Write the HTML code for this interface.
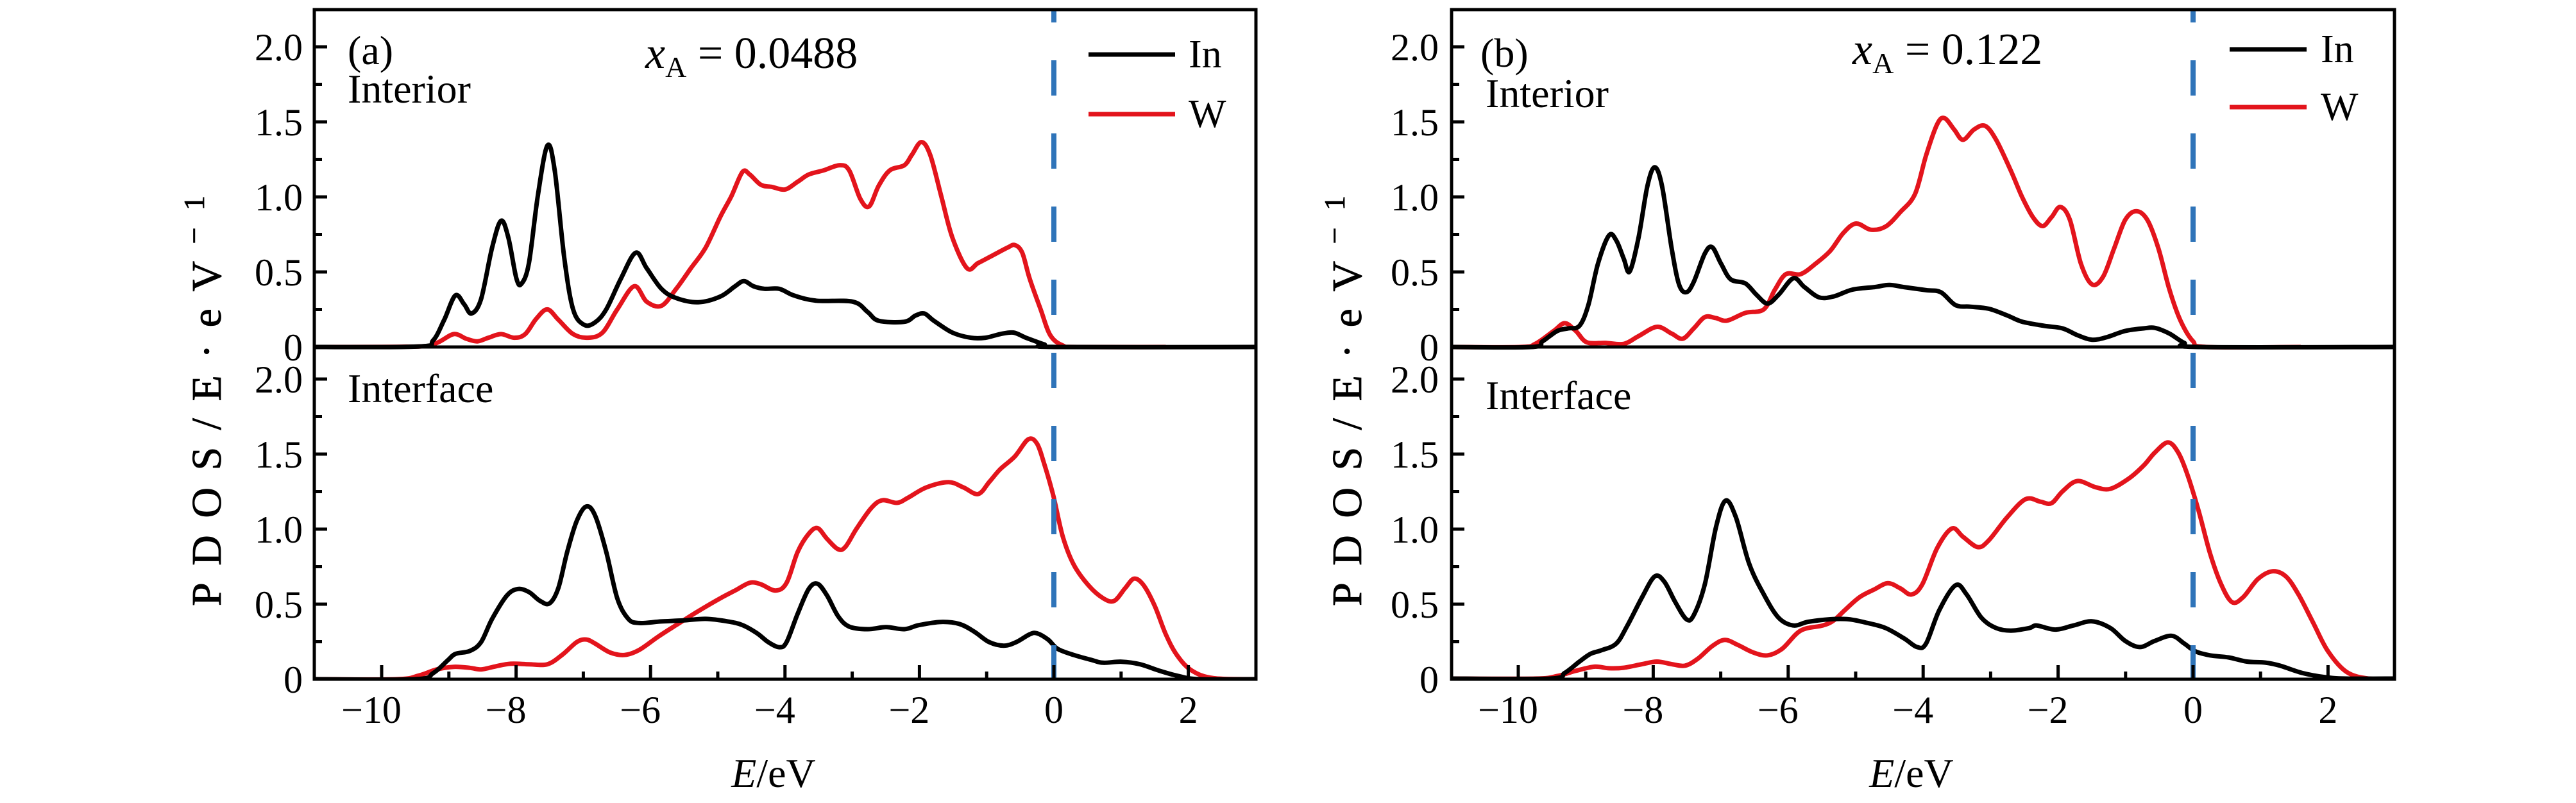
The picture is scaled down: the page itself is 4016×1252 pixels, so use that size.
<!DOCTYPE html>
<html><head><meta charset="utf-8"><style>
html,body{margin:0;padding:0;background:#fff;}
svg{display:block;}
text{font-family:"Liberation Serif",serif;fill:#000;}
</style></head><body>
<svg id="s" width="4016" height="1252" viewBox="0 0 4016 1252" xmlns="http://www.w3.org/2000/svg">
<g id="g"></g>
</svg>
<script>
const NS="http://www.w3.org/2000/svg";
const g=document.getElementById('g');
function el(t,a,txt){const e=document.createElementNS(NS,t);for(const k in a)e.setAttribute(k,a[k]);if(txt!==undefined)e.textContent=txt;g.appendChild(e);return e;}
function smooth(p){let d="M"+p[0][0].toFixed(1)+","+p[0][1].toFixed(1);
 for(let i=0;i<p.length-1;i++){const p0=p[i>0?i-1:i],p1=p[i],p2=p[i+1],p3=p[i+2<p.length?i+2:i+1];
  const c1=[p1[0]+(p2[0]-p0[0])/6,p1[1]+(p2[1]-p0[1])/6],c2=[p2[0]-(p3[0]-p1[0])/6,p2[1]-(p3[1]-p1[1])/6];
  d+=" C"+c1[0].toFixed(1)+","+c1[1].toFixed(1)+" "+c2[0].toFixed(1)+","+c2[1].toFixed(1)+" "+p2[0].toFixed(1)+","+p2[1].toFixed(1);}
 return d;}
function P(s){return s.trim().split(/\)\s*,?\s*\(/).map(t=>t.replace(/[()]/g,'').split(',').map(Number));}

const panels=[
{L:490,R:1958,x0:1643,ux:104.8,ylab:472,ytl:322,
 mx:zx=>595+(zx-300)*1.1479, mt:zy=>541-(673-zy)*0.8027, mb:zy=>1059-(1327-zy)*0.8041,
 lab:"(a)",labx:542,laby:100,intx:542,inty:160,ifx:542,ify:627,
 title:"0.0488",tx:1006,ty:106,legx1:1697,legx2:1832,legIn:85,legW:178,legtx:1853,
 tb:`(208,673),(350,672),(370,660),(385,620),(400,573),(412,590),(422,608),(435,580),(450,480),(462,428),(472,460),(483,540),(490,550),(500,510),(512,380),(525,282),(535,330),(548,500),(560,600),(575,630),(590,625),(605,600),(625,540),(645,490),(660,520),(680,560),(700,578),(730,586),(760,575),(780,555),(792,545),(805,555),(820,560),(840,560),(860,573),(890,583),(940,585),(960,605),(975,622),(1010,624),(1025,612),(1037,608),(1050,622),(1075,645),(1100,655),(1120,655),(1140,648),(1158,645),(1175,655),(1200,668),(1215,673),(1488,673)`,
 tr:`(208,673),(350,672),(375,665),(398,648),(415,657),(430,662),(445,655),(462,648),(480,655),(495,648),(510,618),(525,600),(540,620),(560,648),(580,655),(600,645),(620,600),(643,555),(660,585),(680,593),(700,560),(720,520),(740,480),(760,420),(775,380),(790,333),(800,338),(815,358),(830,362),(848,367),(865,352),(880,338),(900,330),(922,320),(935,330),(950,385),(962,400),(975,360),(990,330),(1010,320),(1020,300),(1033,275),(1045,300),(1060,380),(1075,460),(1095,520),(1110,510),(1130,495),(1150,480),(1160,475),(1170,490),(1180,540),(1195,600),(1208,650),(1225,670),(1245,673),(1365,673)`,
 bb:`(208,1327),(345,1327),(370,1315),(390,1290),(400,1278),(420,1272),(435,1255),(450,1210),(470,1165),(485,1152),(500,1158),(515,1175),(528,1180),(540,1150),(552,1080),(565,1020),(578,992),(590,1010),(605,1080),(620,1170),(635,1210),(650,1218),(680,1215),(710,1213),(740,1210),(770,1215),(790,1222),(810,1238),(825,1255),(840,1265),(850,1255),(865,1200),(880,1152),(892,1142),(905,1165),(920,1205),(935,1225),(960,1230),(985,1226),(1010,1230),(1030,1222),(1060,1216),(1085,1220),(1105,1235),(1125,1255),(1145,1262),(1162,1255),(1180,1240),(1190,1238),(1205,1250),(1218,1268),(1240,1280),(1265,1290),(1280,1295),(1305,1293),(1330,1298),(1355,1310),(1380,1320),(1410,1327),(1488,1327)`,
 br:`(208,1327),(320,1327),(350,1320),(375,1308),(398,1303),(420,1305),(435,1308),(455,1302),(475,1297),(500,1298),(525,1298),(545,1280),(565,1255),(578,1250),(590,1258),(610,1275),(630,1280),(650,1270),(675,1245),(700,1222),(730,1195),(760,1170),(780,1155),(800,1140),(815,1143),(835,1155),(850,1140),(865,1080),(880,1045),(892,1034),(905,1055),(920,1075),(930,1070),(945,1035),(965,995),(980,980),(1000,985),(1015,975),(1040,955),(1070,945),(1090,955),(1110,968),(1125,945),(1140,920),(1160,895),(1178,862),(1190,870),(1200,910),(1212,970),(1225,1050),(1240,1105),(1260,1145),(1280,1170),(1295,1175),(1310,1150),(1322,1132),(1335,1145),(1350,1185),(1365,1240),(1380,1280),(1400,1310),(1430,1325),(1488,1327)`},
{L:2263,R:3733,x0:3419,ux:105.2,ylab:2243,ytl:2100,
 mx:zx=>2367+(zx-277)*1.1497, mt:zy=>541-(671-zy)*0.8055, mb:zy=>1058-(1323-zy)*0.8041,
 lab:"(b)",labx:2308,laby:104,intx:2316,inty:167,ifx:2316,ify:638,
 title:"0.122",tx:2888,ty:100,legx1:3476,legx2:3596,legIn:77,legW:167,legtx:3618,
 tb:`(186,671),(295,671),(310,660),(330,640),(345,635),(360,630),(372,590),(385,510),(400,455),(410,465),(420,500),(428,525),(440,460),(452,360),(462,323),(472,360),(485,480),(495,550),(505,565),(515,545),(530,490),(540,478),(552,510),(565,540),(585,548),(600,570),(615,587),(630,570),(650,538),(665,555),(685,575),(705,573),(730,560),(760,555),(780,551),(800,555),(830,561),(850,565),(870,590),(890,593),(915,597),(940,610),(960,622),(990,630),(1015,635),(1035,648),(1055,657),(1075,652),(1100,640),(1125,635),(1140,634),(1160,645),(1180,663),(1200,671),(1468,671)`,
 tr:`(186,671),(280,671),(300,665),(325,640),(340,625),(355,640),(370,662),(395,663),(420,665),(440,650),(465,632),(485,645),(500,655),(515,635),(530,613),(545,615),(560,620),(585,605),(610,598),(625,560),(640,530),(660,530),(680,510),(700,485),(718,450),(735,432),(755,444),(775,438),(795,410),(815,375),(830,300),(845,240),(855,228),(868,250),(880,270),(895,250),(910,243),(925,270),(945,330),(960,380),(975,420),(988,437),(1000,420),(1012,400),(1025,425),(1040,510),(1055,550),(1070,535),(1085,480),(1100,425),(1115,408),(1130,425),(1145,480),(1160,560),(1175,620),(1192,660),(1210,671),(1338,671)`,
 bb:`(186,1323),(320,1323),(340,1312),(360,1290),(375,1275),(390,1268),(410,1255),(425,1220),(445,1165),(462,1125),(475,1135),(490,1175),(505,1208),(515,1200),(530,1140),(545,1030),(558,978),(572,1010),(590,1100),(610,1160),(630,1205),(650,1220),(670,1213),(700,1208),(725,1208),(750,1215),(775,1225),(800,1245),(818,1262),(830,1255),(848,1190),(870,1142),(885,1160),(905,1205),(925,1225),(945,1230),(970,1225),(980,1220),(1005,1228),(1030,1220),(1055,1212),(1080,1225),(1100,1250),(1120,1262),(1140,1250),(1163,1240),(1180,1255),(1195,1270),(1215,1278),(1240,1282),(1265,1290),(1290,1292),(1310,1298),(1340,1312),(1370,1320),(1400,1323),(1468,1323)`,
 br:`(186,1323),(300,1323),(330,1318),(355,1308),(380,1300),(400,1303),(420,1302),(445,1295),(465,1290),(485,1295),(503,1298),(520,1285),(540,1260),(557,1248),(575,1258),(595,1272),(615,1278),(635,1265),(660,1230),(690,1220),(705,1210),(720,1190),(740,1165),(760,1150),(778,1138),(795,1148),(810,1160),(825,1140),(845,1070),(865,1032),(880,1048),(900,1068),(915,1055),(940,1010),(965,975),(985,980),(1000,983),(1015,960),(1035,940),(1060,952),(1080,955),(1105,935),(1125,910),(1140,885),(1158,865),(1172,885),(1185,930),(1200,1000),(1215,1080),(1230,1140),(1245,1175),(1260,1165),(1280,1130),(1300,1115),(1318,1125),(1335,1160),(1355,1215),(1375,1270),(1400,1310),(1430,1323),(1468,1323)`}
];
const TOP=15,MID=541,BOT=1059,UY=234;
for(const p of panels){
 const clip=el('clipPath',{id:'c'+p.L});
 const r=document.createElementNS(NS,'rect');r.setAttribute('x',p.L);r.setAttribute('y',TOP);r.setAttribute('width',p.R-p.L);r.setAttribute('height',BOT-TOP);clip.appendChild(r);
 const conv=(s,my)=>P(s).map(q=>[p.mx(q[0]),my(q[1])]);
 el('path',{d:smooth(conv(p.tr,p.mt)),fill:'none',stroke:'#e3141c','stroke-width':7,'stroke-linejoin':'round','clip-path':`url(#c${p.L})`});
 el('path',{d:smooth(conv(p.tb,p.mt)),fill:'none',stroke:'#000','stroke-width':7,'stroke-linejoin':'round','clip-path':`url(#c${p.L})`});
 el('path',{d:smooth(conv(p.br,p.mb)),fill:'none',stroke:'#e3141c','stroke-width':7,'stroke-linejoin':'round','clip-path':`url(#c${p.L})`});
 el('path',{d:smooth(conv(p.bb,p.mb)),fill:'none',stroke:'#000','stroke-width':7,'stroke-linejoin':'round','clip-path':`url(#c${p.L})`});
 el('line',{x1:p.x0,y1:-20,x2:p.x0,y2:BOT,stroke:'#2f74b9','stroke-width':8,'stroke-dasharray':'55 59','clip-path':`url(#c${p.L})`});
 el('rect',{x:p.L,y:TOP,width:p.R-p.L,height:BOT-TOP,fill:'none',stroke:'#000','stroke-width':5});
 el('line',{x1:p.L,y1:MID,x2:p.R,y2:MID,stroke:'#000','stroke-width':5});
 for(const z of [MID,BOT]){
  for(let k=1;k<=8;k++){const y=z-k*UY/4;if(y<TOP+5)break;
   el('line',{x1:p.L,y1:y,x2:p.L+(k%2==0?20:12),y2:y,stroke:'#000','stroke-width':5});}
  const labs=["0","0.5","1.0","1.5","2.0"];
  for(let k=0;k<5;k++){el('text',{x:p.ylab,y:z-k*UY/2+21,'font-size':60,'text-anchor':'end'},labs[k]);}
 }
 for(let v=-10;v<=2;v++){const x=p.x0+v*p.ux;
  el('line',{x1:x,y1:BOT,x2:x,y2:BOT-(v%2==0?22:12),stroke:'#000','stroke-width':5});
  if(v%2==0)el('text',{x:x+(v<0?-16:0),y:1127,'font-size':60,'text-anchor':'middle'},(v<0?"\u2212":"")+Math.abs(v));}
 el('text',{x:p.labx,y:p.laby,'font-size':64},p.lab);
 el('text',{x:p.intx,y:p.inty,'font-size':64},"Interior");
 el('text',{x:p.ifx,y:p.ify,'font-size':64},"Interface");
 const t=el('text',{x:p.tx,y:p.ty,'font-size':70});
 t.innerHTML=`<tspan font-style="italic">x</tspan><tspan font-size="46" dy="14">A</tspan><tspan dy="-14"> = ${p.title}</tspan>`;
 el('line',{x1:p.legx1,y1:p.legIn,x2:p.legx2,y2:p.legIn,stroke:'#000','stroke-width':7});
 el('line',{x1:p.legx1,y1:p.legW,x2:p.legx2,y2:p.legW,stroke:'#e3141c','stroke-width':7});
 el('text',{x:p.legtx,y:p.legIn+20,'font-size':62},"In");
 el('text',{x:p.legtx,y:p.legW+20,'font-size':62},"W");
 const cx=(p.L+p.R)/2-18;
 const xl=el('text',{x:cx,y:1227,'font-size':64,'text-anchor':'middle'});
 xl.innerHTML='<tspan font-style="italic">E</tspan>/eV';
 const yl=el('text',{x:0,y:0,'font-size':66,stroke:'#000','stroke-width':0.8,'text-anchor':'middle',textLength:640,lengthAdjust:'spacing',transform:`translate(${p.ytl+22},625) rotate(-90)`});
 yl.innerHTML='PDOS/E·eV<tspan font-size="46" dy="-26">−1</tspan>';
}
</script>
</body></html>
